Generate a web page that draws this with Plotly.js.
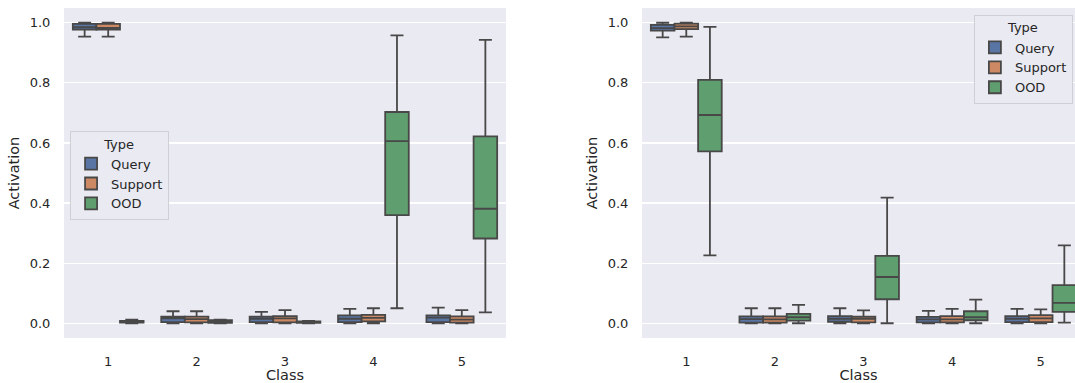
<!DOCTYPE html>
<html>
<head>
<meta charset="utf-8">
<script src="https://cdn.plot.ly/plotly-3.0.1.min.js"></script>
<style>html,body{margin:0;padding:0;background:#fff;}#chart{width:1075px;height:383px;}</style>
</head>
<body>
<div id="chart"></div>
<script>
// Categories and hue levels
const classes = ['1', '2', '3', '4', '5'];
const types = ['Query', 'Support', 'OOD'];
const typeColors = ['#5975a4', '#cc8963', '#5f9e6e'];

// Box statistics per class: [lower whisker, q1, median, q3, upper whisker]
// Left panel
const leftQuery = [
  [0.954, 0.977, 0.985, 0.996, 1.000],
  [0.000, 0.004, 0.016, 0.022, 0.040],
  [0.000, 0.004, 0.015, 0.022, 0.038],
  [0.000, 0.004, 0.015, 0.026, 0.048],
  [0.000, 0.004, 0.019, 0.026, 0.052]
];
const leftSupport = [
  [0.954, 0.977, 0.983, 0.996, 1.000],
  [0.000, 0.003, 0.014, 0.022, 0.040],
  [0.000, 0.003, 0.016, 0.024, 0.044],
  [0.000, 0.006, 0.018, 0.028, 0.050],
  [0.000, 0.002, 0.012, 0.023, 0.044]
];
const leftOOD = [
  [0.000, 0.002, 0.004, 0.008, 0.012],
  [0.000, 0.001, 0.005, 0.010, 0.012],
  [0.000, 0.001, 0.003, 0.006, 0.008],
  [0.050, 0.360, 0.606, 0.703, 0.958],
  [0.036, 0.282, 0.381, 0.622, 0.943]
];
// Right panel
const rightQuery = [
  [0.951, 0.974, 0.982, 0.993, 1.000],
  [0.000, 0.002, 0.014, 0.023, 0.050],
  [0.000, 0.005, 0.015, 0.024, 0.050],
  [0.000, 0.003, 0.013, 0.021, 0.041],
  [0.000, 0.004, 0.015, 0.024, 0.048]
];
const rightSupport = [
  [0.954, 0.979, 0.988, 0.997, 1.000],
  [0.000, 0.002, 0.013, 0.023, 0.050],
  [0.000, 0.003, 0.015, 0.022, 0.043],
  [0.000, 0.003, 0.013, 0.024, 0.048],
  [0.000, 0.004, 0.016, 0.027, 0.046]
];
const rightOOD = [
  [0.226, 0.572, 0.693, 0.810, 0.986],
  [0.000, 0.009, 0.020, 0.031, 0.061],
  [0.000, 0.080, 0.154, 0.224, 0.418],
  [0.000, 0.010, 0.020, 0.040, 0.079],
  [0.002, 0.038, 0.068, 0.127, 0.259]
];
const yTicks = [0, 0.2, 0.4, 0.6, 0.8, 1.0];

const lineColor = '#484848';
function boxTrace(stats, i, xa, ya, legendName) {
  return {
    type: 'box',
    name: types[i],
    x: classes,
    lowerfence: stats.map(s => s[0]),
    q1: stats.map(s => s[1]),
    median: stats.map(s => s[2]),
    q3: stats.map(s => s[3]),
    upperfence: stats.map(s => s[4]),
    xaxis: xa, yaxis: ya,
    offsetgroup: types[i],
    legend: legendName,
    fillcolor: typeColors[i],
    line: {color: lineColor, width: 1.8},
    whiskerwidth: 0.55,
    boxpoints: false,
    hoverinfo: 'skip'
  };
}

const data = [
  boxTrace(leftQuery, 0, 'x', 'y', 'legend'),
  boxTrace(leftSupport, 1, 'x', 'y', 'legend'),
  boxTrace(leftOOD, 2, 'x', 'y', 'legend'),
  boxTrace(rightQuery, 0, 'x2', 'y2', 'legend2'),
  boxTrace(rightSupport, 1, 'x2', 'y2', 'legend2'),
  boxTrace(rightOOD, 2, 'x2', 'y2', 'legend2')
];

const font = {family: 'DejaVu Sans', size: 13, color: '#262626'};
const xCommon = {
  type: 'category', showgrid: false, zeroline: false, showline: false,
  ticks: 'outside', ticklen: 11, tickcolor: 'rgba(0,0,0,0)',
  tickfont: {size: 13, color: '#262626'},
  title: {text: 'Class', font: {size: 14.5, color: '#262626'}, standoff: 4},
  automargin: false, fixedrange: true
};
const yCommon = {
  range: [-0.049, 1.049], tickvals: yTicks, ticktext: yTicks.map(v => v.toFixed(1)),
  showgrid: true, gridcolor: '#ffffff', gridwidth: 1.2, zeroline: false, showline: false,
  ticks: 'outside', ticklen: 10, tickcolor: 'rgba(0,0,0,0)',
  tickfont: {size: 13, color: '#262626'},
  title: {text: 'Activation', font: {size: 14.5, color: '#262626'}, standoff: 6},
  automargin: false, fixedrange: true
};
const legendCommon = {
  bgcolor: '#eaeaf2', bordercolor: '#cfcfd6', borderwidth: 1,
  font: {size: 13, color: '#262626'},
  title: {text: 'Type', side: 'top center', font: {size: 13, color: '#262626'}},
  xanchor: 'left', yanchor: 'top', itemwidth: 30, tracegroupgap: 0
};

const layout = {
  width: 1075, height: 383,
  margin: {l: 64, r: 0, t: 8, b: 45},
  paper_bgcolor: '#ffffff',
  plot_bgcolor: '#eaeaf2',
  font: font,
  boxmode: 'group', boxgap: 0.2, boxgroupgap: 0.0,
  showlegend: true,
  xaxis: Object.assign({}, xCommon, {domain: [0, 0.4372], range: [-0.5, 4.5], anchor: 'y'}),
  yaxis: Object.assign({}, yCommon, {domain: [0, 1], anchor: 'x'}),
  xaxis2: Object.assign({}, xCommon, {domain: [0.5717, 1], range: [-0.5, 4.387], anchor: 'y2'}),
  yaxis2: Object.assign({}, yCommon, {domain: [0, 1], anchor: 'x2'}),
  legend: Object.assign({}, legendCommon, {x: 0.006, y: 0.628}),
  legend2: Object.assign({}, legendCommon, {x: 0.9, y: 0.98})
};

Plotly.newPlot('chart', data, layout, {staticPlot: true, displayModeBar: false});
</script>
</body>
</html>
